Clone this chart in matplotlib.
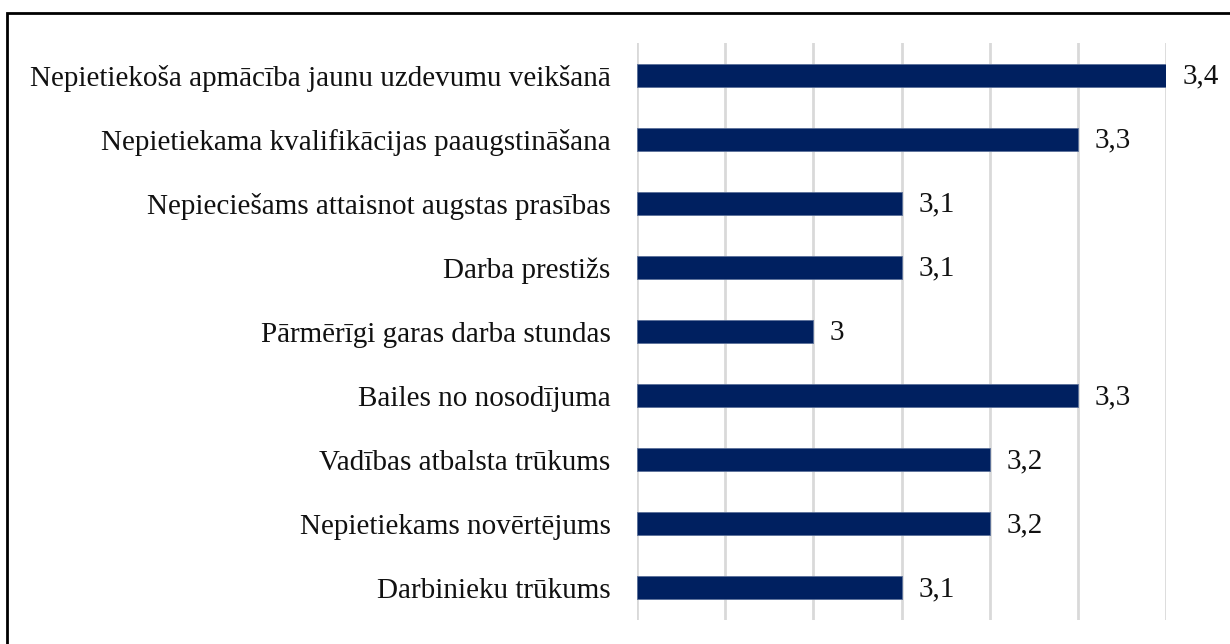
import matplotlib
matplotlib.use("Agg")
import matplotlib.pyplot as plt
from matplotlib.patches import Rectangle

categories = [
    "Nepietiekoša apmācība jaunu uzdevumu veikšanā",
    "Nepietiekama kvalifikācijas paaugstināšana",
    "Nepieciešams attaisnot augstas prasības",
    "Darba prestižs",
    "Pārmērīgi garas darba stundas",
    "Bailes no nosodījuma",
    "Vadības atbalsta trūkums",
    "Nepietiekams novērtējums",
    "Darbinieku trūkums",
]
values = [3.4, 3.3, 3.1, 3.1, 3.0, 3.3, 3.2, 3.2, 3.1]
value_labels = ["3,4", "3,3", "3,1", "3,1", "3", "3,3", "3,2", "3,2", "3,1"]
x_min, x_max, x_step = 2.8, 3.4, 0.1

plt.rcParams['font.family'] = ['Liberation Serif', 'DejaVu Serif']

fig = plt.figure(figsize=(12.3, 6.44), dpi=100)
ax = fig.add_axes([637/1230, 1-620/644, (1166-637)/1230, (620-43)/644])

n = len(categories)
ypos = list(range(n))[::-1]
ax.barh(ypos, [v - x_min for v in values], left=x_min, height=0.36,
        color='#002060', edgecolor='#5a6f99', linewidth=0.6, zorder=3)
for y, v, lab in zip(ypos, values, value_labels):
    ax.annotate(lab, xy=(v, y), xytext=(12, -1), textcoords='offset points',
                va='center', ha='left', fontsize=21, color='#111111')

ax.set_xlim(x_min, x_max)
ax.set_ylim(-0.5, n - 0.5)
ticks = [round(x_min + i * x_step, 2) for i in range(int(round((x_max - x_min) / x_step)) + 1)]
ax.set_xticks(ticks)
ax.set_xticklabels([])
ax.tick_params(axis='x', length=0)
ax.grid(axis='x', color='#d9d9d9', linewidth=2, zorder=0)
ax.set_yticks(ypos)
ax.set_yticklabels(categories, fontsize=21, color='#111111')
ax.tick_params(axis='y', length=0, pad=19)
for s in ax.spines.values():
    s.set_visible(False)

fig.patches.append(Rectangle((7/1230, -0.1), 1.2, (644-13)/644 + 0.1, transform=fig.transFigure,
                             fill=False, edgecolor='black', linewidth=2))

fig.savefig("out.png", dpi=100)
